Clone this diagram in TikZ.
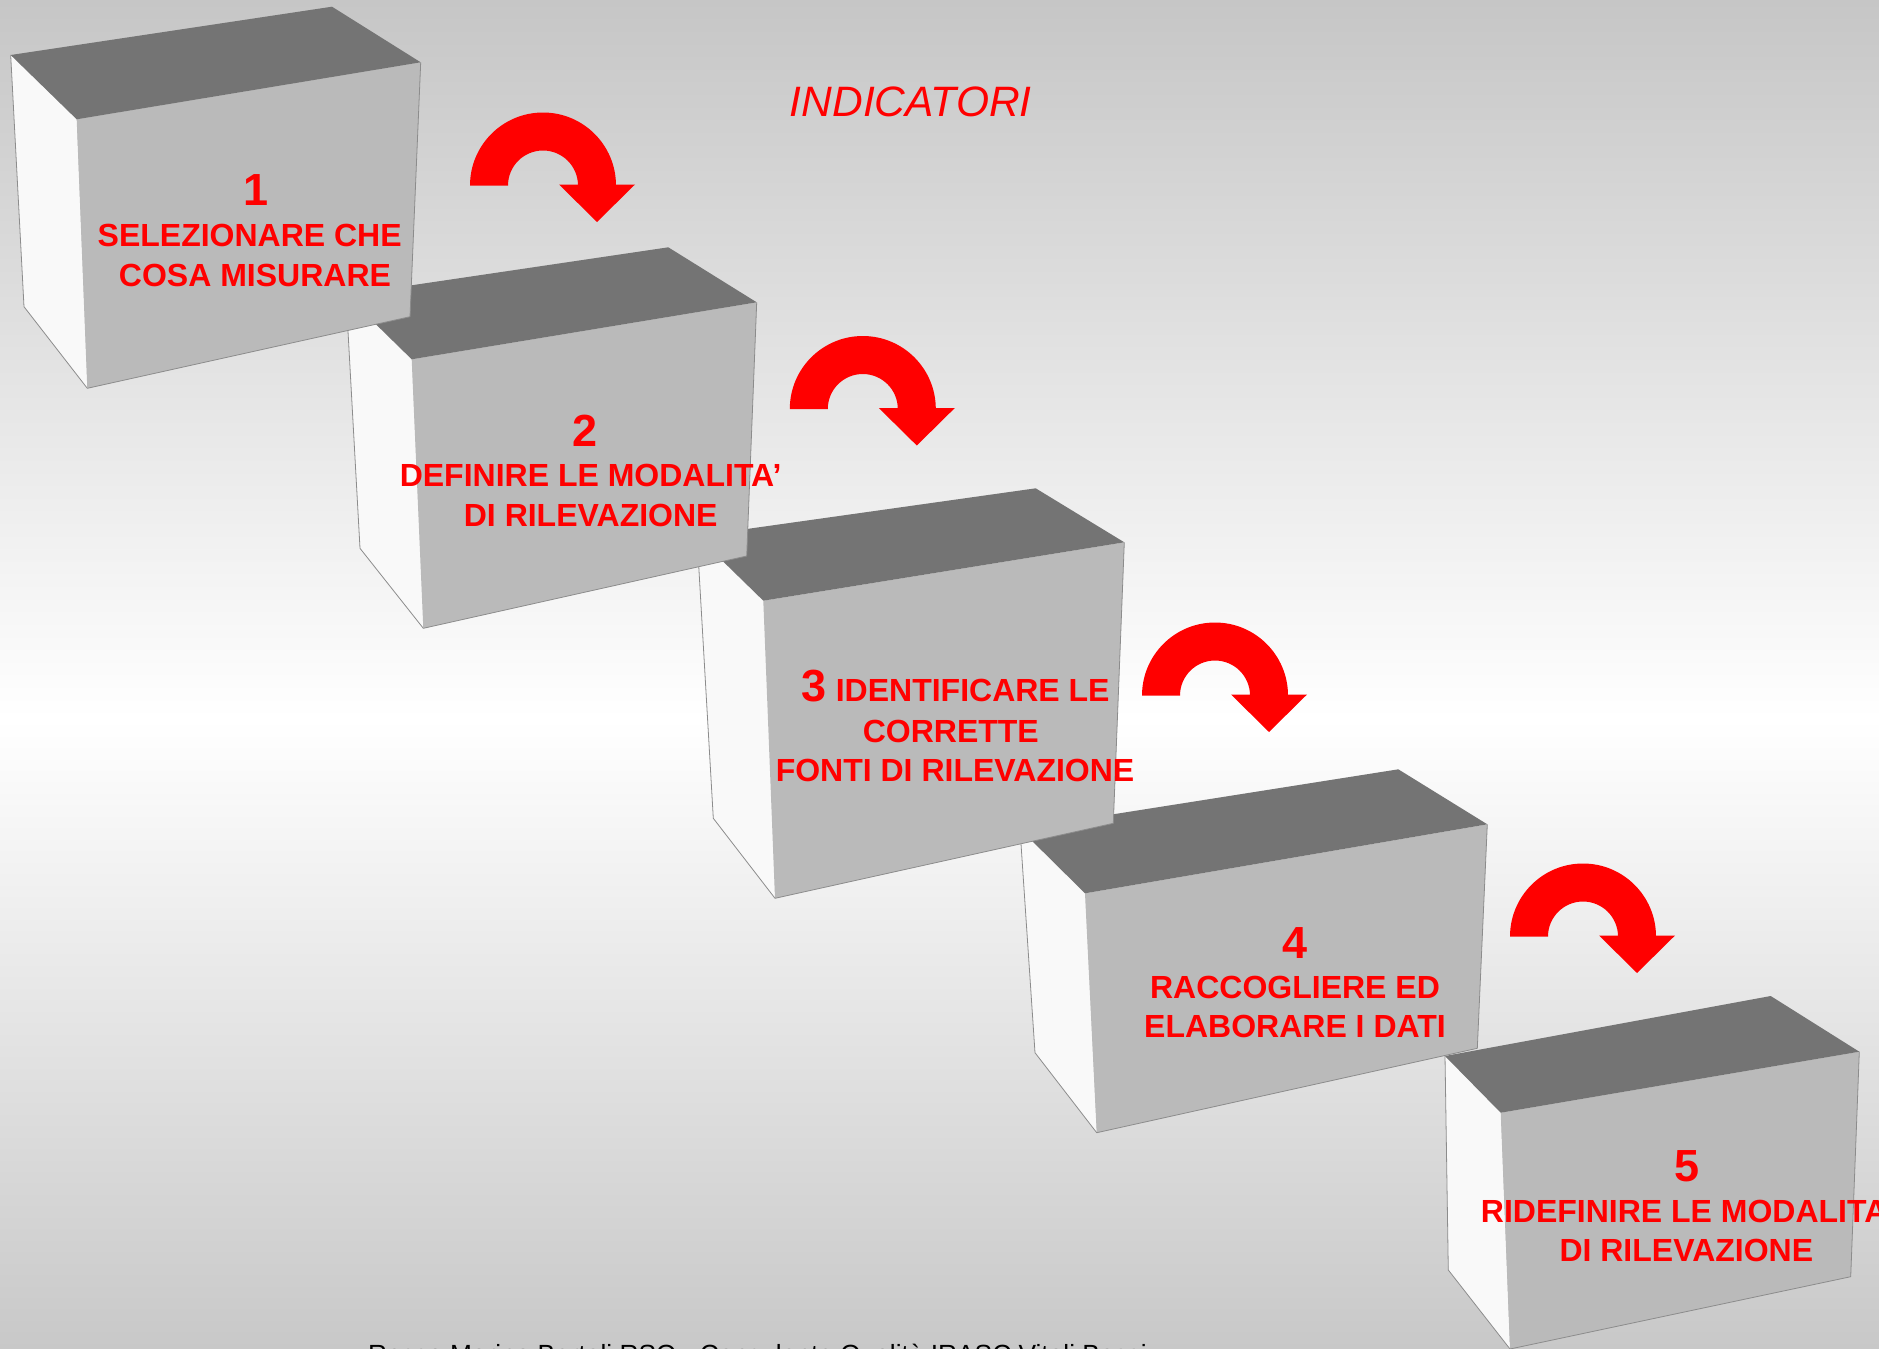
\documentclass[tikz,border=0pt]{standalone}
\usepackage{fontspec}
\setmainfont{Liberation Sans}
\begin{document}
\definecolor{bgtop}{HTML}{C6C6C6}
\definecolor{bgbottom}{HTML}{C8C8C8}
\definecolor{cubetop}{HTML}{747474}
\definecolor{cubefront}{HTML}{BABABA}
\definecolor{cubeleft}{HTML}{F9F9F9}
\definecolor{cubeedge}{HTML}{8C8C8C}
\definecolor{stepred}{HTML}{FF0000}
% one block of the staircase: left corner, top back, right, front top-left,
% front bottom-right, front bottom-left, left bottom
\newcommand{\stepcube}[7]{%
  \fill[leftface] #1 -- #4 -- #6 -- #7 -- cycle;
  \fill[frontface] #4 -- #3 -- #5 -- #6 -- cycle;
  \fill[topface] #1 -- #2 -- #3 -- #4 -- cycle;
  \draw[cubeline] #1 -- #7 -- #6 -- #5 -- #3;
}
% curved red arrow turning down to the right, centred on the base of its arc
\newcommand{\uturn}[2]{%
  \fill[turnarrow] (#1-73,#2) arc[start angle=180,end angle=0,radius=73]
    -- (#1+35,#2) arc[start angle=0,end angle=180,radius=35] -- cycle;
  \fill[turnarrow] (#1+16,#2+1) -- (#1+92,#2+1) -- (#1+54,#2-36.5) -- cycle;
}
\begin{tikzpicture}[x=1pt,y=1pt,
  topface/.style={fill=cubetop},
  frontface/.style={fill=cubefront},
  leftface/.style={fill=cubeleft},
  cubeline/.style={draw=cubeedge,line width=0.8pt,line join=round},
  turnarrow/.style={fill=stepred},
  numtxt/.style={anchor=base,inner sep=0pt,text=stepred,
    font=\fontsize{45}{50}\selectfont\bfseries},
  steptxt/.style={anchor=base,inner sep=0pt,text=stepred,
    font=\fontsize{32}{38}\selectfont\bfseries},
  titletxt/.style={anchor=base,inner sep=0pt,text=stepred,
    font=\fontsize{42.5}{48}\selectfont\itshape},
  foottxt/.style={anchor=base west,inner sep=0pt,text=black,
    font=\fontsize{26.3}{30}\selectfont}]
\useasboundingbox (0,0) rectangle (1879,-1349);
\clip (0,0) rectangle (1879,-1349);

% background
\shade[top color=bgtop,bottom color=white] (0,0) rectangle (1879,-719);
\shade[top color=white,bottom color=bgbottom] (0,-719) rectangle (1879,-1349);

% blocks, from the lowest to the highest
\stepcube{(1445,-1056)}{(1770.7,-996)}{(1859.3,-1051.7)}{(1500.7,-1112.7)}{(1850.7,-1276.7)}{(1510,-1349)}{(1448.3,-1270)}
\stepcube{(1020,-829)}{(1398.3,-769.3)}{(1487.3,-824.3)}{(1085,-893.3)}{(1477.3,-1048.3)}{(1096.7,-1132.7)}{(1035,-1052.7)}
\stepcube{(697,-536)}{(1035.7,-488.3)}{(1124.3,-542.3)}{(763.3,-600.7)}{(1113.3,-823.3)}{(775,-898.3)}{(713.3,-818.3)}
\stepcube{(346,-295)}{(668.3,-247.3)}{(756.7,-302.3)}{(411.7,-359.3)}{(746.7,-556)}{(423.3,-628.3)}{(360,-548.3)}
\stepcube{(10.7,-55)}{(332,-6.7)}{(420.7,-62.3)}{(76.7,-119.3)}{(410,-316.7)}{(87.3,-388.3)}{(24,-306.7)}

% arrows between the blocks
\uturn{543}{-185.5}
\uturn{862.8}{-409}
\uturn{1215}{-695.5}
\uturn{1583}{-936.5}

% title
\node[titletxt] (title) at (910.8,-116) {INDICATORI};

% block 1
\node[numtxt] (n1) at (256,-205) {1};
\node[steptxt] (s1a) at (249.7,-246.7) {SELEZIONARE CHE};
\node[steptxt] (s1b) at (255,-286.7) {COSA MISURARE};

% block 2
\node[numtxt] (n2) at (585,-446.7) {2};
\node[steptxt] (s2a) at (590.6,-486.7) {DEFINIRE LE MODALITA’};
\node[steptxt] (s2b) at (590.7,-526) {DI RILEVAZIONE};

% block 3
\node[steptxt,anchor=base west] (s3a) at (801.7,-701.7)
  {{\fontsize{45}{50}\selectfont 3} IDENTIFICARE LE};
\node[steptxt] (s3b) at (950.8,-742.7) {CORRETTE};
\node[steptxt] (s3c) at (955,-781.7) {FONTI DI RILEVAZIONE};

% block 4
\node[numtxt] (n4) at (1295,-958.3) {4};
\node[steptxt] (s4a) at (1295,-998.3) {RACCOGLIERE ED};
\node[steptxt] (s4b) at (1295,-1037.3) {ELABORARE I DATI};

% block 5
\node[numtxt] (n5) at (1686.7,-1181.7) {5};
\node[steptxt,anchor=base west] (s5a) at (1480.7,-1222.7) {RIDEFINIRE LE MODALITA’};
\node[steptxt] (s5b) at (1686.3,-1261.7) {DI RILEVAZIONE};

% footer line
\node[foottxt] (foot) at (368,-1363) {Rossa Marina Bertoli RSQ - Consulente Qualità IRASC Vitali Bossi};
\end{tikzpicture}
\end{document}
